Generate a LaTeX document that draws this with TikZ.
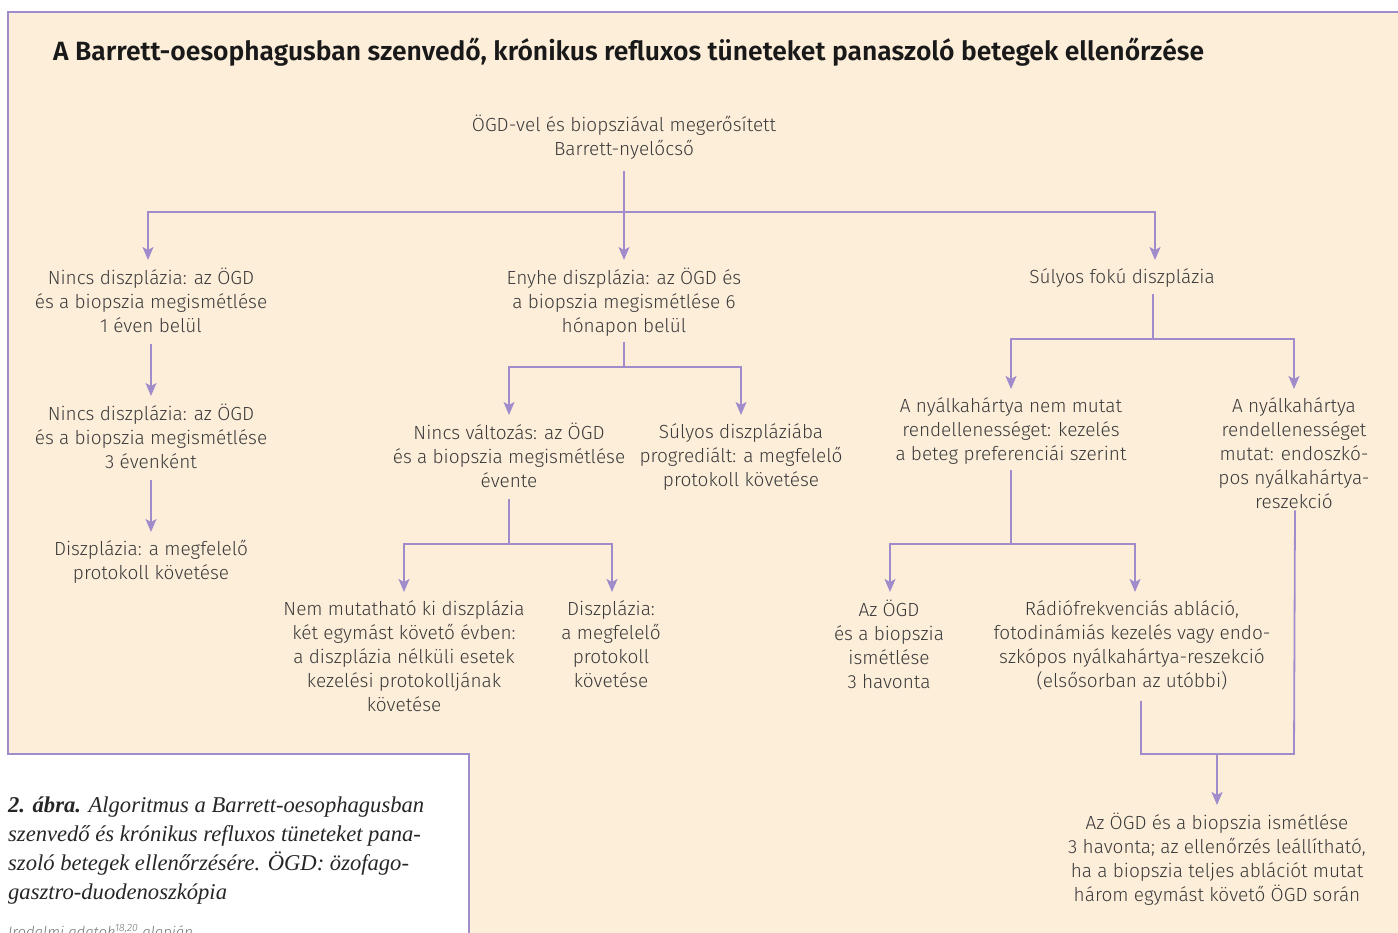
\documentclass[tikz,border=0pt]{standalone}
\usepackage{fontspec}
\setmainfont{Fira Sans}[UprightFont={* Light},ItalicFont={* Light Italic},BoldFont={* SemiBold}]
\newfontfamily\capfont{Liberation Serif}
\usepackage{tikz}
\usetikzlibrary{arrows.meta,calc,positioning}
\usepackage{xcolor}
\definecolor{frameviolet}{HTML}{A18CCB}
\definecolor{paper}{HTML}{FDEEDA}
\definecolor{ink}{HTML}{3A3A3A}
\tikzset{
  txt/.style={align=center,anchor=north,font=\fontsize{19}{24}\selectfont,text=ink,inner sep=2pt},
  lnk/.style={draw=frameviolet,line width=1.8pt},
  arr/.style={lnk,-{Stealth[length=13pt,width=11pt,inset=3pt]},shorten >=6pt},
  fromtxt/.style={shorten <=9pt}
}
\begin{document}
\begin{tikzpicture}[x=1pt,y=-1pt]
  \useasboundingbox (0,0) rectangle (1398,933);
  \fill[paper] (8,12) -- (1402,12) -- (1402,940) -- (469,940) -- (469,754) -- (8,754) -- cycle;
  \draw[frameviolet,line width=2pt] (1402,12) -- (8,12) -- (8,754) -- (469,754) -- (469,940);
  \node[anchor=base west,inner sep=0,text=black!90,font=\fontsize{26.45}{30}\selectfont\bfseries] (title) at (53,61)
    {A Barrett-oesophagusban szenvedő, krónikus refluxos tüneteket panaszoló betegek ellenőrzése};

  \node[txt] (root) at (624,113) {ÖGD-vel és biopsziával megerősített\\Barrett-nyelőcső};
  \node[txt] (a1) at (151,266) {Nincs diszplázia: az ÖGD\\és a biopszia megismétlése\\1 éven belül};
  \node[txt] (a2) at (151,402) {Nincs diszplázia: az ÖGD\\és a biopszia megismétlése\\3 évenként};
  \node[txt] (a3) at (151,538) {Diszplázia: a megfelelő\\protokoll követése};
  \node[txt] (b1) at (624,266) {Enyhe diszplázia: az ÖGD és\\a biopszia megismétlése 6\\hónapon belül};
  \node[txt] (b2) at (509,421) {Nincs változás: az ÖGD\\és a biopszia megismétlése\\évente};
  \node[txt] (b3) at (741,421) {Súlyos diszpláziába\\progrediált: a megfelelő\\protokoll követése};
  \node[txt] (b4) at (404,598) {Nem mutatható ki diszplázia\\két egymást követő évben:\\a diszplázia nélküli esetek\\kezelési protokolljának\\követése};
  \node[txt] (b5) at (611,598) {Diszplázia:\\a megfelelő\\protokoll\\követése};
  \node[txt] (c1) at (1122,266) {Súlyos fokú diszplázia};
  \node[txt] (c2) at (1011,395) {A nyálkahártya nem mutat\\rendellenességet: kezelés\\a beteg preferenciái szerint};
  \node[txt] (c3) at (1294,395) {A nyálkahártya\\rendellenességet\\mutat: endoszkó-\\pos nyálkahártya-\\reszekció};
  \node[txt] (c4) at (889,598) {Az ÖGD\\és a biopszia\\ismétlése\\3 havonta};
  \node[txt] (c5) at (1132,598) {Rádiófrekvenciás abláció,\\fotodinámiás kezelés vagy endo-\\szkópos nyálkahártya-reszekció\\(elsősorban az utóbbi)};
  \node[txt] (c6) at (1217,811) {Az ÖGD és a biopszia ismétlése\\3 havonta; az ellenőrzés leállítható,\\ha a biopszia teljes ablációt mutat\\három egymást követő ÖGD során};

  \coordinate (j1) at (624,212);
  \coordinate (j2) at (624,367);
  \coordinate (j3) at (509,544);
  \coordinate (j4) at (1153,339);
  \coordinate (j5) at (1011,544);
  \coordinate (j6) at (1217,754);
  \draw[lnk,fromtxt] (root) -- (j1);
  \draw[arr] (j1) -| ([xshift=-3pt]a1.north);
  \draw[arr] (j1) -- (b1.north);
  \draw[arr] (j1) -| ([xshift=33pt]c1.north);
  \draw[arr,fromtxt] (a1) -- (a2);
  \draw[arr,fromtxt] (a2) -- (a3);
  \draw[lnk,shorten <=3pt] (b1) -- (j2);
  \draw[arr] (j2) -| (b2.north);
  \draw[arr] (j2) -| (b3.north);
  \draw[lnk,fromtxt] (b2) -- (j3);
  \draw[arr] (j3) -| (b4.north);
  \draw[arr] (j3) -| ([xshift=1pt]b5.north);
  \draw[lnk,shorten <=5pt] ([xshift=31pt]c1.south) -- (j4);
  \draw[arr] (j4) -| (c2.north);
  \draw[arr] (j4) -| (c3.north);
  \draw[lnk,shorten <=4pt] (c2) -- (j5);
  \draw[arr] (j5) -| ([xshift=1pt]c4.north);
  \draw[arr] (j5) -| ([xshift=3pt]c5.north);
  \draw[lnk,fromtxt] ([xshift=9pt]c5.south) |- (c3.south |- j6) -- ([xshift=1pt]c3.south);
  \draw[arr] (j6) -- (c6.north);

  \node[anchor=north west,align=left,inner sep=0,text=black!85,font=\capfont\itshape\fontsize{22.6}{29}\selectfont] (caption) at (8,797)
    {\textbf{2. ábra.} Algoritmus a Barrett-oesophagusban\\szenvedő és krónikus refluxos tüneteket pana-\\szoló betegek ellenőrzésére. ÖGD: özofago-\\gasztro-duodenoszkópia};
  \node[anchor=base west,inner sep=0,text=black!55,font=\itshape\fontsize{15}{18}\selectfont] (source) at (8,937)
    {Irodalmi adatok\textsuperscript{18,20} alapján};
\end{tikzpicture}
\end{document}
